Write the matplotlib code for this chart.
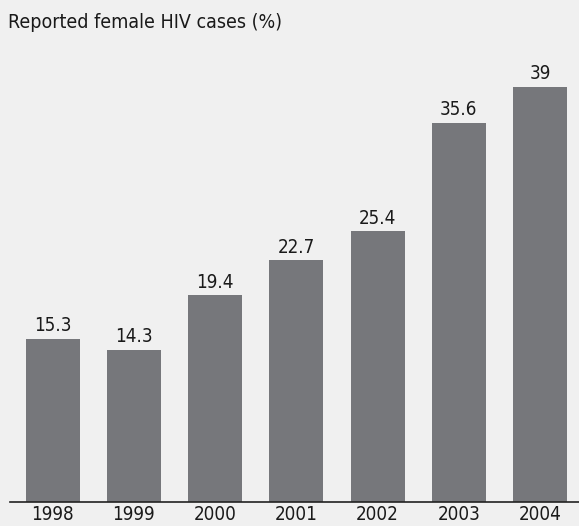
import matplotlib
matplotlib.use('Agg')
import matplotlib.pyplot as plt

years = ['1998', '1999', '2000', '2001', '2002', '2003', '2004']
share = [15.3, 14.3, 19.4, 22.7, 25.4, 35.6, 39]
value_labels = ['15.3', '14.3', '19.4', '22.7', '25.4', '35.6', '39']

bg = (0.80, 0.80, 0.80, 0.3)
bar_col = '#76777b'
txt_col = '#1a1a1a'

W, H = 579, 526
fig = plt.figure(figsize=(W / 100, H / 100), dpi=100, facecolor=bg)

# axes placed in pixel units: baseline at y=502, left edge at x=10
left, bottom, top = 10, 24, 466
ax = fig.add_axes([left / W, bottom / H, (W - left) / W, (top - bottom) / H])
ax.patch.set_alpha(0)

step = 81.25
x0 = 52.5
xs = list(range(len(years)))
ax.bar(xs, share, width=54 / step, color=bar_col, zorder=2)
ax.set_xlim((left - x0) / step, (W - x0) / step)
ax.set_ylim(0, (top - bottom) / 10.65)

for x, v, t in zip(xs, share, value_labels):
    ax.text(x, v + 0.35, t, ha='center', va='bottom', fontsize=13.5,
            family='DejaVu Sans', stretch='condensed', color=txt_col)

ax.set_xticks(xs)
ax.set_xticklabels(years, family='DejaVu Sans', stretch='condensed', fontsize=13.5, color=txt_col)
ax.tick_params(axis='x', length=0, pad=2.5)
ax.set_yticks([])
for s in ['top', 'right', 'left']:
    ax.spines[s].set_visible(False)
ax.spines['bottom'].set_color('#222222')
ax.spines['bottom'].set_linewidth(1.2)

fig.text(8 / W, 1 - 23 / H, 'Reported female HIV cases (%)', ha='left', va='center',
         fontsize=14, family='DejaVu Sans', stretch='condensed', color=txt_col)

fig.savefig('out.png', dpi=100, facecolor=bg)
